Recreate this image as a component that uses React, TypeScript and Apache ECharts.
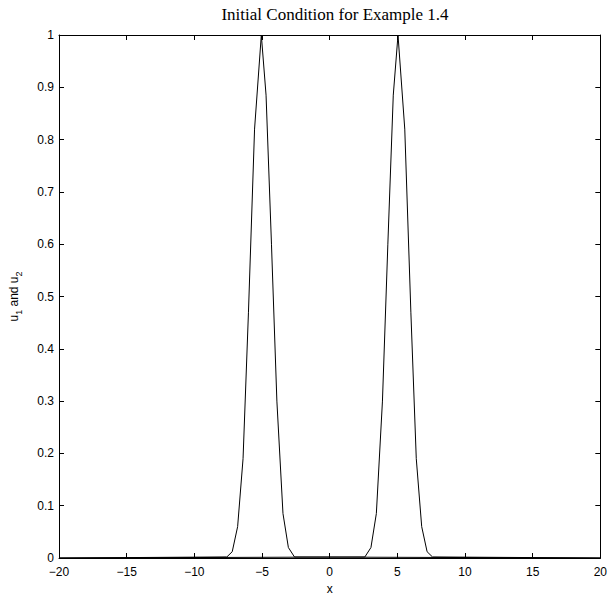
import React, { useEffect, useRef } from "react";
import * as echarts from "echarts";

const u1X = [-20, -7.6, -7.2, -6.8, -6.4, -6.0, -5.55, -5.05, -4.7, -4.3, -3.9, -3.45, -3.05, -2.6, 20];
const u1Y = [0, 0.002, 0.012, 0.06, 0.19, 0.47, 0.82, 1.0, 0.885, 0.6, 0.3, 0.085, 0.02, 0.002, 0];
const u2X = [-20, 2.6, 3.05, 3.45, 3.9, 4.3, 4.7, 5.05, 5.55, 6.0, 6.4, 6.8, 7.2, 7.6, 20];
const u2Y = [0, 0.002, 0.02, 0.085, 0.3, 0.6, 0.885, 1.0, 0.82, 0.47, 0.19, 0.06, 0.012, 0.002, 0];

const titleText = "Initial Condition for Example 1.4";
const xName = "x";

export default function App() {
  const ref = useRef<HTMLDivElement>(null);
  useEffect(() => {
    if (!ref.current) return;
    const chart = echarts.init(ref.current, null, { renderer: "svg" });
    const sans = "Liberation Sans, Arial, sans-serif";
    const axisLine = { show: true, onZero: false, lineStyle: { color: "#000", width: 1 } };
    const tick = { show: true, inside: true, length: 5, lineStyle: { color: "#000" } };
    const fmt = (v: number) => String(v).replace("-", "\u2212");
    chart.setOption({
      animation: false,
      backgroundColor: "#fff",
      title: {
        text: titleText,
        left: 330,
        textAlign: "center",
        top: 1,
        textStyle: { fontFamily: "Liberation Serif, Times New Roman, serif", fontSize: 17, fontWeight: "normal", color: "#000" },
      },
      grid: { left: 57, right: 9, top: 35, bottom: 44, containLabel: false },
      xAxis: [
        {
          type: "value", min: -20, max: 20, interval: 5, position: "bottom",
          axisLine, axisTick: tick, splitLine: { show: false },
          axisLabel: { color: "#000", fontFamily: sans, fontSize: 12, margin: 8, formatter: fmt },
          name: xName, nameLocation: "middle", nameGap: 25,
          nameTextStyle: { color: "#000", fontFamily: sans, fontSize: 12 },
        },
        {
          type: "value", min: -20, max: 20, interval: 5, position: "top",
          axisLine, axisTick: tick, splitLine: { show: false }, axisLabel: { show: false },
        },
      ],
      yAxis: [
        {
          type: "value", min: 0, max: 1, interval: 0.1, position: "left",
          axisLine, axisTick: tick, splitLine: { show: false },
          axisLabel: { color: "#000", fontFamily: sans, fontSize: 12, margin: 5, formatter: (v: number) => String(Math.round(v * 10) / 10) },
          name: "{n|u}{s|1}{n| and u}{s|2}", nameLocation: "middle", nameGap: 36, nameRotate: 90,
          nameTextStyle: {
            color: "#000", fontFamily: sans, fontSize: 12,
            rich: {
              n: { fontFamily: sans, fontSize: 12, color: "#000", lineHeight: 18, verticalAlign: "middle" },
              s: { fontFamily: sans, fontSize: 9, color: "#000", lineHeight: 18, verticalAlign: "bottom" },
            },
          },
        },
        {
          type: "value", min: 0, max: 1, interval: 0.1, position: "right",
          axisLine, axisTick: tick, splitLine: { show: false }, axisLabel: { show: false },
        },
      ],
      series: [
        {
          type: "line", xAxisIndex: 0, yAxisIndex: 0, showSymbol: false, symbol: "none",
          lineStyle: { color: "#000", width: 1 },
          data: u1X.map((x, i) => [x, u1Y[i]]),
        },
        {
          type: "line", xAxisIndex: 0, yAxisIndex: 0, showSymbol: false, symbol: "none",
          lineStyle: { color: "#000", width: 1 },
          data: u2X.map((x, i) => [x, u2Y[i]]),
        },
      ],
    });
    return () => chart.dispose();
  }, []);
  return <div ref={ref} style={{ width: 610, height: 602, position: "absolute", left: 0, top: 0 }} />;
}
